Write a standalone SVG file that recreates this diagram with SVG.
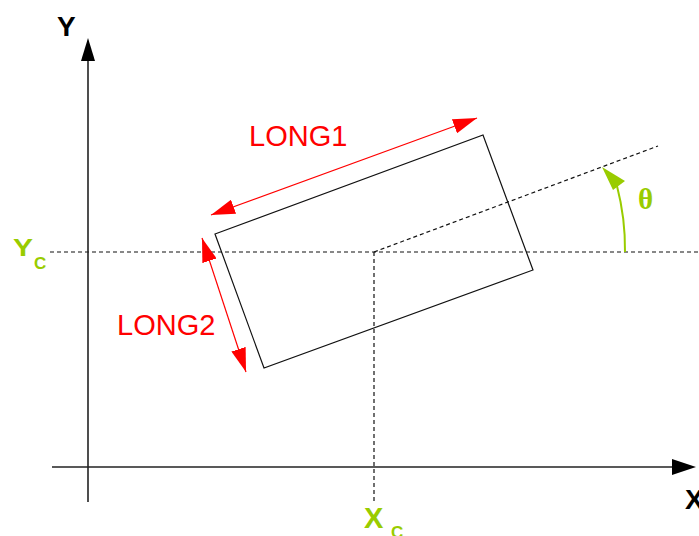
<svg xmlns="http://www.w3.org/2000/svg" width="699" height="536" viewBox="0 0 699 536">
<style>
.axis{stroke:#222;stroke-width:1.6;fill:none}
.dash{stroke:#111;stroke-width:1.2;stroke-dasharray:4,3;fill:none}
.rect{stroke:#111;stroke-width:1.2;fill:none}
.dim{stroke:#ff0000;stroke-width:1.2;fill:none}
.red{fill:#ff0000;font-family:"Liberation Sans",Arial,sans-serif;font-size:29px}
.lbl{fill:#000;font-family:"Liberation Sans",Arial,sans-serif;font-size:28px;font-weight:bold}
.grn{fill:#99cc00;font-family:"Liberation Sans",Arial,sans-serif;font-weight:bold}
</style>
<defs>
<marker id="ra" markerUnits="userSpaceOnUse" markerWidth="24" markerHeight="15" refX="24" refY="7.5" orient="auto-start-reverse">
<path d="M0,0 L24,7.5 L0,15 z" fill="#ff0000"/>
</marker>
</defs>
<rect width="699" height="536" fill="#fff"/>
<g id="connectors">
<line class="dash" x1="50" y1="252" x2="699" y2="252"/>
<line class="dash" x1="374" y1="252" x2="374" y2="502"/>
<line class="dash" x1="374" y1="252" x2="658" y2="146"/>
<line class="axis" x1="88" y1="58" x2="88" y2="502"/>
<polygon points="88,38 81,61 95,61" fill="#000"/>
<line class="axis" x1="52" y1="467" x2="675" y2="467"/>
<polygon points="696,467 672,459 672,475" fill="#000"/>
<line class="dim" x1="211" y1="215" x2="477" y2="118" marker-start="url(#ra)" marker-end="url(#ra)"/>
<line class="dim" x1="202" y1="238" x2="246" y2="372" marker-start="url(#ra)" marker-end="url(#ra)"/>
<path d="M625,252 A251,251 0 0 0 617,186" stroke="#99cc00" stroke-width="2" fill="none"/>
<polygon points="602,167 613,190 625,181" fill="#99cc00"/>
</g>
<g id="rectangle">
<polygon class="rect" points="215,234 483,135 533,270 264,368"/>
</g>
<g id="labels">
<text class="lbl" x="57" y="36">Y</text>
<text class="lbl" x="685" y="509">X</text>
<text class="red" x="249" y="146">LONG1</text>
<text class="red" x="117" y="335">LONG2</text>
<text class="grn" x="13" y="256" font-size="24" textLength="20" lengthAdjust="spacingAndGlyphs">Y</text>
<text class="grn" x="34" y="269" font-size="17">C</text>
<text class="grn" x="364" y="528" font-size="29">X</text>
<text class="grn" x="391" y="538" font-size="17">C</text>
<text x="638" y="209" fill="#99cc00" font-family="'Liberation Serif','Times New Roman',serif" font-size="29" font-weight="bold">θ</text>
</g>
</svg>
